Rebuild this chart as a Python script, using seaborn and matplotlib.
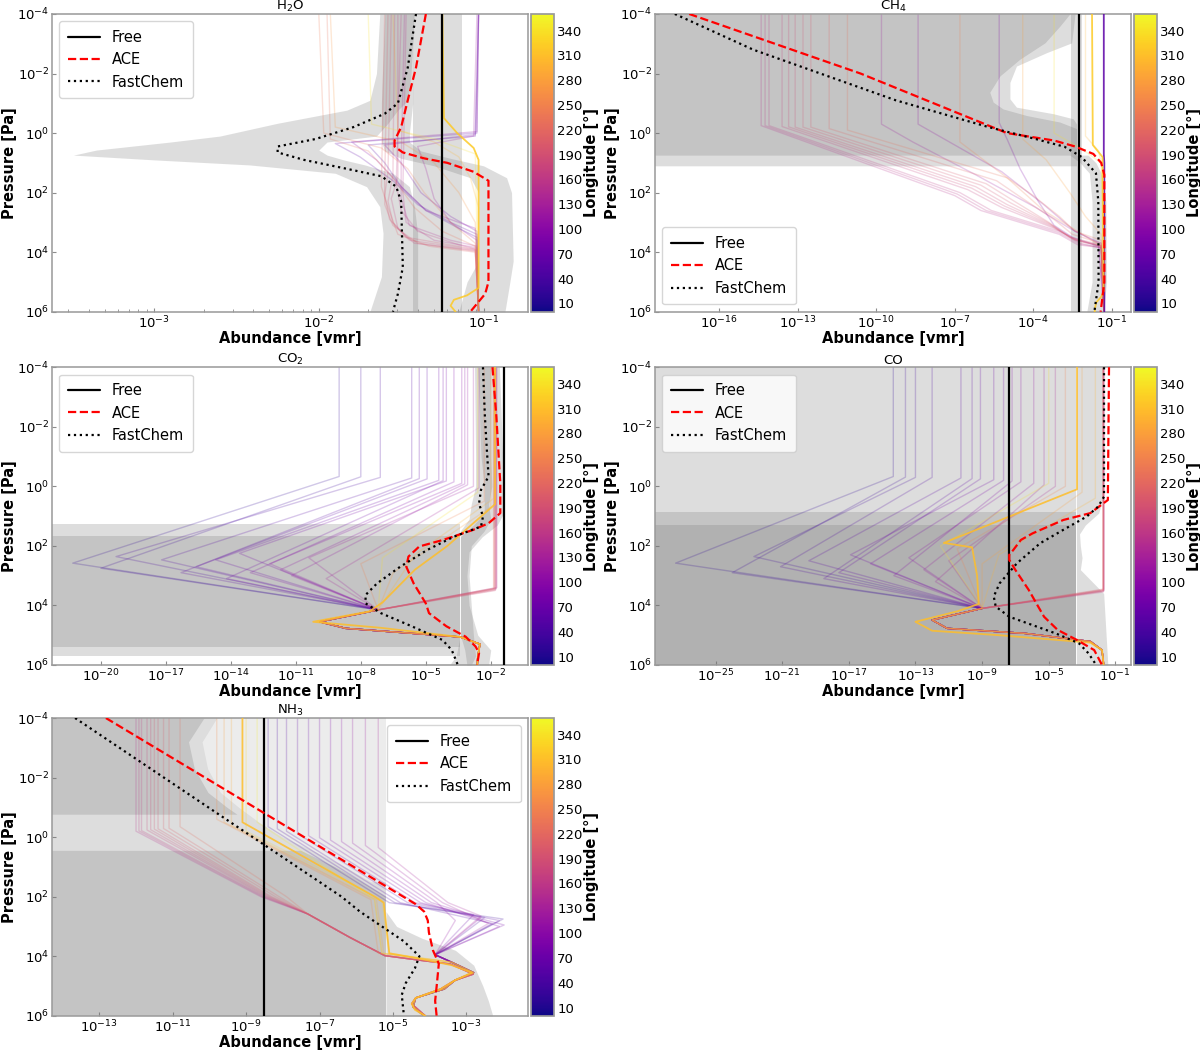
import numpy as np
import pandas as pd
import matplotlib
matplotlib.use("Agg")
import matplotlib.pyplot as plt
import seaborn as sns
from matplotlib.colors import Normalize
from matplotlib.cm import ScalarMappable
from matplotlib.ticker import FixedLocator, LogFormatterSciNotation, NullLocator, LogLocator, NullFormatter

# ---------------- data: log10 values ----------------
XMIN = -40.0
P_TICKS = [-4, -2, 0, 2, 4, 6]
LON_TICKS = list(range(10, 341, 30))

# ---- H2O ----
h2o_xlim = (-3.62, -0.73)
h2o_xticks = [-3, -2, -1]
h2o_free = -1.255
h2o_ace_p = [-4, -2.2, -1.1, -0.2, 0.25, 0.45, 0.65, 0.85, 1.0, 1.3, 1.6, 5.0, 5.4, 6.0]
h2o_ace_x = [-1.35, -1.41, -1.46, -1.50, -1.54, -1.54, -1.49, -1.36, -1.22, -1.06, -0.97, -0.97, -0.99, -1.08]
h2o_fc_p = [-4, -2.2, -1.0, -0.65, -0.2, 0.2, 0.45, 0.65, 0.9, 1.2, 1.45, 1.8, 2.3, 4.5, 5.4, 6.0]
h2o_fc_x = [-1.41, -1.46, -1.52, -1.60, -1.79, -2.02, -2.25, -2.25, -2.09, -1.83, -1.62, -1.53, -1.50, -1.49, -1.52, -1.55]
h2o_bfc_p = [-4, -2, -1.1, -0.77, -0.33, 0.1, 0.3, 0.57, 0.74, 0.9, 1.07, 1.35, 1.8, 2.47, 3.37, 4.82, 6]
h2o_bfc_lo = [-1.63, -1.65, -1.69, -1.83, -2.25, -2.6, -2.9, -3.35, -3.49, -3.0, -2.42, -1.90, -1.71, -1.63, -1.61, -1.62, -1.69]
h2o_bfc_hi = [-1.42, -1.44, -1.46, -1.52, -1.58, -1.65, -1.95, -2.0, -1.95, -1.85, -1.72, -1.55, -1.45, -1.42, -1.40, -1.40, -1.40]
h2o_bace_p = [-4, -1, 0.0, 0.3, 0.6, 0.85, 1.1, 1.5, 2.0, 4.3, 5.0, 6.0]
h2o_bace_lo = [-1.60, -1.62, -1.62, -1.62, -1.60, -1.50, -1.30, -1.08, -1.03, -1.03, -1.10, -1.15]
h2o_bace_hi = [-1.43, -1.43, -1.45, -1.45, -1.38, -1.20, -1.00, -0.86, -0.83, -0.82, -0.84, -0.87]
h2o_bfree_p = [-4, 6]
h2o_bfree_lo = [-1.43, -1.43]
h2o_bfree_hi = [-1.13, -1.13]
h2o_lon = [50, 60, 80, 100, 120, 140, 150, 160, 170, 180, 190, 200, 210, 230, 240, 270, 300, 340]
h2o_lines_p = [
    [-4, 0.1, 0.4, 1.0, 1.8, 2.6, 3.2, 3.5, 6],
    [-4, 0.0, 0.35, 0.8, 1.6, 2.4, 3.0, 3.4, 6],
    [-4, 0.05, 0.4, 1.0, 2.0, 2.8, 3.3, 6],
    [-4, -0.05, 0.3, 0.9, 1.8, 2.6, 3.2, 6],
    [-4, 0.1, 0.45, 1.2, 2.2, 3.0, 3.6, 6],
    [-4, 1.0, 2.2, 3.1, 3.6, 3.8, 6],
    [-4, 2.0, 3.0, 3.6, 3.85, 6],
    [-4, 1.7, 2.6, 3.3, 3.75, 3.9, 6],
    [-4, 1.5, 2.2, 3.2, 3.7, 3.95, 6],
    [-4, 1.4, 2.3, 3.0, 3.6, 3.92, 6],
    [-4, 1.3, 2.1, 2.9, 3.5, 3.9, 6],
    [-4, 1.6, 2.4, 3.1, 3.7, 3.97, 6],
    [-4, 1.8, 2.5, 3.4, 3.8, 4.0, 6],
    [-4, 0.2, 0.6, 1.5, 2.5, 3.3, 3.8, 6],
    [-4, 0.0, 0.5, 1.2, 2.0, 3.0, 3.7, 6],
    [-4, -0.2, 0.3, 1.0, 2.0, 3.0, 6],
    [-4, -0.1, 0.3, 0.8, 1.5, 2.5, 6],
    [-4, -0.3, 0.2, 0.7, 6],
]
h2o_lines_x = [
    [-1.03, -1.05, -1.7, -1.6, -1.5, -1.35, -1.15, -1.04, -1.03],
    [-1.03, -1.04, -1.9, -1.75, -1.55, -1.4, -1.2, -1.04, -1.03],
    [-1.03, -1.05, -1.6, -1.5, -1.38, -1.2, -1.04, -1.03],
    [-1.03, -1.04, -1.8, -1.65, -1.5, -1.35, -1.05, -1.03],
    [-1.04, -1.06, -1.4, -1.35, -1.3, -1.2, -1.04, -1.03],
    [-1.48, -1.5, -1.5, -1.45, -1.2, -1.04, -1.03],
    [-1.47, -1.49, -1.47, -1.3, -1.04, -1.03],
    [-1.50, -1.53, -1.5, -1.4, -1.15, -1.04, -1.03],
    [-1.52, -1.52, -1.56, -1.52, -1.42, -1.04, -1.03],
    [-1.54, -1.55, -1.58, -1.55, -1.45, -1.05, -1.03],
    [-1.56, -1.58, -1.60, -1.57, -1.47, -1.05, -1.03],
    [-1.58, -1.6, -1.6, -1.55, -1.40, -1.05, -1.03],
    [-1.60, -1.62, -1.58, -1.52, -1.33, -1.05, -1.03],
    [-1.95, -1.93, -1.7, -1.55, -1.42, -1.25, -1.05, -1.03],
    [-2.0, -1.97, -1.62, -1.46, -1.36, -1.2, -1.05, -1.03],
    [-1.93, -1.9, -1.5, -1.3, -1.15, -1.05, -1.03],
    [-1.55, -1.52, -1.3, -1.15, -1.08, -1.03, -1.03],
    [-1.7, -1.68, -1.3, -1.05, -1.03],
]
h2o_strong_lon = [320]
h2o_strong_p = [[-4, -0.5, 0.0, 0.5, 0.9, 5.2, 5.45, 5.6, 5.8, 6]]
h2o_strong_x = [[-1.25, -1.24, -1.16, -1.06, -1.03, -1.03, -1.1, -1.18, -1.20, -1.17]]

# ---- CH4 ----
ch4_xlim = (-18.46, -0.26)
ch4_xticks = [-16, -13, -10, -7, -4, -1]
ch4_free = -2.25
ch4_ace_p = [-4, -2, 0, 0.25, 0.45, 0.7, 1.0, 1.4, 5.0, 6.0]
ch4_ace_x = [-17.15, -10.6, -5.0, -3.2, -2.4, -1.7, -1.4, -1.28, -1.28, -1.42]
ch4_fc_p = [-4, -2.8, -1.1, -0.2, 0.2, 0.46, 0.8, 1.35, 2.3, 5.0, 6.0]
ch4_fc_x = [-17.7, -14.7, -9.25, -5.7, -3.9, -2.8, -2.15, -1.6, -1.51, -1.5, -1.66]
ch4_by_p = [-4, -3.59, -3.03, -2.48, -1.92, -1.37, -1.04, -0.81, -0.59, -0.37, -0.15, 0.74]
ch4_by_hi = [-2.60, -2.98, -3.55, -4.51, -5.27, -5.66, -5.53, -5.15, -4.25, -2.98, -2.34, -2.34]
ch4_bx_p = [-4, -3.03, -2.70, -2.25, -1.70, -1.15, -0.87, -0.65, -0.48, -0.3, 1.1]
ch4_bx_hi = [-2.40, -2.53, -3.49, -4.64, -4.89, -4.89, -4.64, -3.23, -2.47, -2.34, -2.34]
ch4_bfree_p = [-4, 6]
ch4_bfree_lo = [-2.55, -2.55]
ch4_bfree_hi = [-2.12, -2.12]
ch4_bfc_p = [0.74, 1.0, 1.35, 2.3, 5.0, 6.0]
ch4_bfc_lo = [-2.6, -2.2, -1.85, -1.75, -1.75, -1.95]
ch4_bfc_hi = [-1.9, -1.6, -1.4, -1.22, -1.2, -1.3]
ch4_lon = [150, 155, 160, 170, 180, 185, 195, 200, 215, 230, 90, 110, 250, 280, 300, 340, 120]
ch4_lines_p = [
    [-4, -0.25, 2.1, 2.6, 3.4, 3.75, 3.85, 6],
    [-4, -0.25, 2.05, 2.6, 3.35, 3.72, 3.85, 6],
    [-4, -0.25, 2.0, 2.6, 3.3, 3.7, 3.85, 6],
    [-4, -0.22, 1.9, 2.5, 3.2, 3.6, 3.8, 6],
    [-4, -0.21, 1.85, 2.45, 3.15, 3.6, 3.8, 6],
    [-4, -0.2, 1.8, 2.4, 3.1, 3.6, 3.8, 6],
    [-4, -0.2, 1.75, 2.35, 3.05, 3.55, 3.78, 6],
    [-4, -0.2, 1.7, 2.3, 3.0, 3.5, 3.75, 6],
    [-4, -0.15, 1.6, 2.2, 2.9, 3.4, 3.7, 6],
    [-4, -0.1, 1.5, 2.1, 2.8, 3.3, 3.6, 6],
    [-4, -0.35, 0.2, 1.2, 2.3, 3.1, 3.5, 3.8, 6],
    [-4, -0.3, 0.3, 1.3, 2.4, 3.3, 3.7, 6],
    [-4, 0.3, 1.5, 2.6, 3.3, 3.8, 6],
    [-4, 0.2, 0.9, 2.0, 2.8, 3.4, 6],
    [-4, 0.1, 0.6, 1.2, 6],
    [-4, 0.0, 0.5, 1.0, 6],
    [-4, -0.3, 0.3, 1.4, 2.5, 3.2, 3.7, 6],
]
ch4_lines_x = [
    [-14.4, -14.4, -7.0, -6.0, -3.0, -2.3, -1.4, -1.29],
    [-14.25, -14.25, -6.9, -5.8, -3.0, -2.25, -1.4, -1.29],
    [-14.1, -14.1, -6.8, -5.6, -3.0, -2.2, -1.4, -1.29],
    [-13.6, -13.6, -6.5, -5.2, -3.2, -2.3, -1.4, -1.29],
    [-13.35, -13.35, -6.35, -5.1, -3.25, -2.35, -1.4, -1.29],
    [-13.1, -13.1, -6.2, -5.0, -3.3, -2.4, -1.4, -1.29],
    [-12.8, -12.8, -6.0, -4.85, -3.35, -2.5, -1.4, -1.29],
    [-12.5, -12.5, -5.8, -4.7, -3.4, -2.6, -1.4, -1.29],
    [-11.8, -11.8, -5.4, -4.4, -3.2, -2.5, -1.4, -1.29],
    [-11.1, -11.1, -5.0, -4.0, -3.0, -2.4, -1.4, -1.29],
    [-5.3, -5.3, -5.0, -4.5, -3.8, -3.2, -2.5, -1.5, -1.29],
    [-8.4, -8.4, -7.2, -5.2, -3.6, -2.4, -1.4, -1.29],
    [-6.8, -6.8, -5.0, -3.6, -2.3, -1.4, -1.29],
    [-4.4, -4.4, -3.5, -2.6, -2.0, -1.4, -1.29],
    [-2.0, -2.0, -1.5, -1.35, -1.29],
    [-3.2, -3.2, -2.2, -1.4, -1.29],
    [-9.8, -9.8, -8.6, -6.2, -3.9, -2.6, -1.5, -1.29],
]
ch4_strong_lon = [60, 320]
ch4_strong_p = [[-4, 0.7, 1.0, 6], [-4, 0.4, 0.8, 5.3, 5.5, 5.7, 6]]
ch4_strong_x = [[-1.3, -1.3, -1.28, -1.28], [-1.75, -1.72, -1.35, -1.3, -1.4, -1.6, -1.65]]

# ---- CO2 ----
co2_xlim = (-22.26, -0.28)
co2_xticks = [-20, -17, -14, -11, -8, -5, -2]
co2_free = -1.39
co2_ace_p = [-4, -2.34, -0.1, 0.9, 1.24, 1.46, 1.8, 2.02, 2.36, 2.7, 3.26, 3.93, 4.26, 4.7, 5.05, 5.38, 5.6, 6.0]
co2_ace_x = [-1.92, -1.74, -1.56, -1.56, -2.1, -2.8, -4.2, -5.3, -5.8, -5.9, -5.56, -5.0, -4.85, -4.05, -3.16, -2.7, -2.54, -2.63]
co2_fc_p = [-4, -2.34, -1.22, -0.33, 0.12, 0.57, 1.02, 1.35, 1.69, 2.14, 2.70, 3.26, 3.65, 3.93, 4.26, 4.7, 5.16, 5.5, 6.0]
co2_fc_x = [-2.36, -2.27, -2.18, -2.1, -2.45, -2.54, -2.36, -2.45, -3.7, -4.94, -6.18, -7.25, -7.78, -7.78, -7.07, -5.65, -4.23, -3.8, -3.52]
co2_r1_p = [1.26, 5.69]
co2_r2_p = [1.67, 5.38]
co2_r_hi = -3.4
co2_bfc_p = [-4, -1, 0, 0.6, 1.1, 1.5, 2.0, 3.0, 4.0, 5.0, 5.7, 6]
co2_bfc_lo = [-2.75, -2.7, -2.7, -2.9, -3.0, -3.4, -3.4, -3.4, -3.4, -3.4, -3.6, -3.9]
co2_bfc_hi = [-2.0, -2.0, -1.95, -2.1, -2.0, -2.3, -2.9, -3.0, -2.9, -2.8, -2.7, -2.9]
co2_bace_p = [-4, -1, 0, 0.9, 1.3, 1.7, 2.2, 3.0, 4.0, 5.0, 5.5, 6]
co2_bace_lo = [-2.6, -2.45, -2.3, -2.3, -2.8, -3.4, -3.4, -3.4, -3.4, -3.4, -3.2, -3.1]
co2_bace_hi = [-1.6, -1.45, -1.4, -1.4, -1.7, -2.4, -3.0, -3.1, -3.0, -2.6, -2.0, -2.1]
co2_fan_lon = [20, 30, 40, 50, 55, 60, 70, 75, 80, 90, 100, 105, 110, 120, 130, 250, 280, 300, 340]
co2_fan_top = [-9.0, -8.0, -7.1, -5.65, -5.3, -4.94, -4.4, -4.2, -4.05, -3.7, -3.34, -3.2, -3.07, -2.8, -2.54, -2.3, -2.0, -1.85, -2.6]
co2_fan_pk = [-0.33, -0.32, -0.3, -0.28, -0.26, -0.25, -0.2, -0.19, -0.18, -0.15, -0.1, -0.08, -0.05, 0.0, 0.05, 0.5, 0.7, 0.4, 0.2]
co2_fan_min = [-21.3, -20.0, -19.3, -17.2, -16.3, -15.6, -14.7, -14.2, -13.6, -13.1, -12.2, -11.7, -11.2, -10.4, -9.6, -8.0, -6.5, -5.5, -7.0]
co2_fan_pmin = [2.58, 2.75, 2.36, 2.47, 2.9, 2.7, 2.47, 3.1, 2.25, 2.9, 2.6, 2.8, 3.0, 2.4, 3.1, 2.6, 2.9, 2.3, 2.4]
co2_tail_p = [4.15, 4.55, 4.77, 5.06, 5.3, 5.73, 6.0]
co2_tail_x = [-7.2, -9.9, -8.7, -3.4, -2.5, -2.6, -2.62]
co2_pink_lon = [150, 160, 170, 180, 190, 200, 210, 220]
co2_pink_top = [-1.72, -1.74, -1.76, -1.78, -1.80, -1.82, -1.85, -1.87]
co2_pink_turn = [3.4, 3.42, 3.45, 3.48, 3.5, 3.44, 3.42, 3.46]
co2_strong_lon = [310]
co2_strong_p = [[-4, 0.6, 2.0, 2.8, 3.9, 4.2, 4.55, 4.75, 5.06, 5.3, 5.73, 6]]
co2_strong_x = [[-1.8, -1.8, -4.0, -5.5, -7.0, -7.6, -10.2, -7.1, -3.41, -2.5, -2.6, -2.62]]

# ---- CO ----
co_xlim = (-28.64, -0.06)
co_xticks = [-25, -21, -17, -13, -9, -5, -1]
co_free = -7.41
co_ace_p = [-4, 0.46, 0.9, 1.13, 1.58, 1.8, 2.14, 2.30, 2.47, 2.81, 3.48, 4.04, 4.38, 4.82, 5.16, 5.5, 6.0]
co_ace_x = [-1.38, -1.45, -2.5, -4.12, -5.97, -6.67, -7.13, -7.37, -7.37, -7.0, -6.2, -5.63, -5.28, -4.47, -3.31, -2.27, -1.8]
co_fc_p = [-4, 0.35, 0.68, 1.02, 1.46, 1.91, 2.58, 3.26, 3.70, 4.04, 4.38, 4.94, 5.27, 5.61, 6.0]
co_fc_x = [-1.68, -1.68, -2.03, -2.73, -4.12, -5.51, -6.9, -7.95, -8.3, -8.18, -7.37, -4.58, -3.19, -2.61, -2.15]
co_layer_p0 = [-4, 0.87, 1.31]
co_layer_hi = -3.34
co_bb_p = [-4, 0.4, 0.9, 1.3, 1.6, 2.0, 2.4, 2.8, 3.2, 3.6, 6]
co_bb_hi = [-1.75, -1.75, -2.0, -2.8, -3.15, -3.1, -3.0, -3.1, -2.4, -1.7, -1.45]
co_fan_lon = [20, 30, 35, 45, 55, 60, 65, 75, 85, 95, 105, 115, 125, 135, 250, 280, 300, 340]
co_fan_top = [-14.33, -13.6, -13.0, -12.0, -10.27, -9.6, -9.1, -8.3, -7.71, -7.2, -6.67, -5.9, -5.28, -4.6, -4.0, -3.0, -2.2, -5.0]
co_fan_pk = [-0.33, -0.31, -0.3, -0.3, -0.28, -0.26, -0.25, -0.22, -0.2, -0.18, -0.15, -0.1, -0.05, 0.0, 0.0, 0.2, 0.4, -0.1]
co_fan_min = [-27.4, -24.0, -22.7, -21.1, -19.4, -18.5, -17.6, -16.9, -15.7, -14.3, -13.4, -12.5, -11.8, -11.0, -10.5, -9.0, -8.0, -11.5]
co_fan_pmin = [2.58, 2.9, 2.36, 2.7, 2.5, 3.1, 2.9, 2.3, 2.6, 3.0, 2.4, 2.8, 3.2, 2.5, 2.1, 2.6, 2.3, 2.0]
co_tail_p = [4.1, 4.49, 4.77, 4.94, 5.21, 5.5, 6.0]
co_tail_x = [-9.0, -12.0, -11.1, -6.4, -2.5, -1.8, -1.7]
co_pink_lon = [150, 160, 170, 180, 190, 200, 210, 220]
co_pink_top = [-1.68, -1.70, -1.72, -1.70, -1.70, -1.73, -1.75, -1.74]
co_pink_turn = [3.5, 3.52, 3.55, 3.48, 3.45, 3.5, 3.52, 3.47]
co_strong_lon = [310]
co_strong_p = [[-4, 0.1, 1.9, 2.05, 3.0, 3.95, 4.2, 4.55, 4.85, 5.0, 5.25, 5.5, 6]]
co_strong_x = [[-3.3, -3.3, -11.3, -9.6, -9.3, -9.2, -10.5, -13.0, -12.0, -8.0, -2.5, -1.8, -1.7]]

# ---- NH3 ----
nh3_xlim = (-14.29, -1.32)
nh3_xticks = [-13, -11, -9, -7, -5, -3]
nh3_free = -8.52
nh3_ace_p = [-4, 2.25, 2.5, 2.8, 3.2, 3.8, 4.25, 4.9, 5.5, 6]
nh3_ace_x = [-12.82, -4.38, -4.15, -4.05, -4.02, -3.91, -3.75, -3.8, -3.85, -3.81]
nh3_fc_p = [-4, 2.0, 2.5, 3.0, 3.5, 4.0, 4.4, 4.9, 5.3, 6]
nh3_fc_x = [-13.66, -6.4, -5.9, -5.3, -4.7, -4.28, -4.4, -4.65, -4.76, -4.7]
nh3_ba_hi = -5.19
nh3_btop_p = [-4, -3.2, -2.3, -1.5, -1.0, -0.77]
nh3_btop_hi = [-10.15, -10.57, -10.41, -10.04, -9.52, -9.25]
nh3_bbot_p = [0.46, 1.0, 1.5, 2.0, 6.0]
nh3_bbot_hi = [-7.5, -6.58, -5.85, -5.19, -5.19]
nh3_bc_p = [2.5, 3.0, 3.4, 3.8, 4.3, 5.0, 5.5, 6]
nh3_bc_hi = [-5.19, -4.9, -4.2, -3.3, -2.8, -2.55, -2.4, -2.28]
nh3_inner_p = [-4, -3.2, -2.3, -1.5, -1.0, -0.5, 0.0, 0.5, 1.0, 1.5]
nh3_inner_lo = [-9.8, -10.2, -10.05, -9.7, -9.2, -8.65, -8.0, -7.1, -6.3, -5.6]
nh3_tail_p = [3.95, 4.2, 4.55, 4.8, 5.1, 5.4, 5.7, 6]
nh3_tail_x = [-3.85, -3.4, -2.8, -3.3, -3.6, -4.38, -4.45, -4.15]
nh3_pur_lon = [30, 40, 50, 60, 70, 80, 90, 100, 110, 120, 130]
nh3_pur_top = [-8.4, -8.15, -7.9, -7.6, -7.3, -7.0, -6.7, -6.4, -6.1, -5.75, -5.4]
nh3_pur_pk = [-0.35, -0.28, -0.2, -0.12, -0.05, 0.02, 0.1, 0.15, 0.2, 0.28, 0.35]
nh3_pur_x2 = [-5.1, -4.95, -4.8, -4.6, -4.4, -4.25, -4.1, -3.95, -3.8, -3.65, -3.5]
nh3_pur_min = [-2.0, -2.5, -2.3, -2.1, -2.8, -1.97, -2.1, -2.6, -3.3, -2.4, -2.6]
nh3_pur_pmin = [2.75, 2.7, 2.9, 2.8, 2.6, 2.95, 3.0, 2.7, 2.8, 2.9, 2.65]
nh3_pink_lon = [150, 160, 165, 175, 180, 190, 195, 205, 210, 225]
nh3_pink_top = [-12.0, -11.92, -11.85, -11.7, -11.6, -11.5, -11.4, -11.25, -11.1, -10.8]
nh3_pink_pk = [-0.2, -0.21, -0.22, -0.24, -0.25, -0.27, -0.28, -0.29, -0.3, -0.35]
nh3_pink_x2 = [-8.6, -8.55, -8.5, -8.45, -8.4, -8.35, -8.3, -8.2, -8.1, -7.9]
nh3_pink_mid_p = [2.58, 3.37, 3.98, 4.15, 4.26, 4.6, 4.82, 5.1, 5.4, 5.6, 6]
nh3_pink_mid_x = [-7.32, -6.17, -5.22, -4.17, -3.44, -2.81, -3.33, -3.7, -4.38, -4.49, -4.12]
nh3_yel_lon = [260, 280, 290, 330, 350]
nh3_yel_top = [-9.8, -9.6, -9.4, -9.0, -8.7]
nh3_yel_pk = [-0.6, -0.5, -0.4, -0.2, -0.5]
nh3_yel_x2 = [-5.6, -5.5, -5.45, -5.3, -5.5]
nh3_strong_lon = [310]
nh3_strong_p = [[-4, -0.5, 2.0, 2.2, 3.9, 4.1, 4.3, 4.55, 4.8, 5.1, 5.4, 5.6, 5.8, 6]]
nh3_strong_x = [[-9.1, -9.1, -5.5, -5.25, -5.1, -4.2, -3.4, -2.85, -3.3, -3.7, -4.38, -4.49, -4.4, -4.12]]

# ---------------- assemble panel tables ----------------
def fan(lons, tops, pks, mins, pmins, tail_p, tail_x):
    out = []
    for lon, t, pk, m, pm in zip(lons, tops, pks, mins, pmins):
        out.append((lon, [-4, pk, pm] + tail_p, [t, t, m] + tail_x))
    return out

def pinks(lons, tops, turns, tail_p, tail_x):
    return [(lon, [-4, tp] + tail_p, [t, t] + tail_x) for lon, t, tp in zip(lons, tops, turns)]

panels = [
    dict(title="H$_2$O", xlim=h2o_xlim, xticks=h2o_xticks, minor=True, free=h2o_free,
         ace=(h2o_ace_p, h2o_ace_x), fc=(h2o_fc_p, h2o_fc_x), leg="upper left",
         bands=[(h2o_bfc_p, h2o_bfc_lo, h2o_bfc_hi), (h2o_bace_p, h2o_bace_lo, h2o_bace_hi),
                (h2o_bfree_p, h2o_bfree_lo, h2o_bfree_hi)], wbands=[],
         lines=list(zip(h2o_lon, h2o_lines_p, h2o_lines_x)),
         strong=list(zip(h2o_strong_lon, h2o_strong_p, h2o_strong_x))),
    dict(title="CH$_4$", xlim=ch4_xlim, xticks=ch4_xticks, minor=False, free=ch4_free,
         ace=(ch4_ace_p, ch4_ace_x), fc=(ch4_fc_p, ch4_fc_x), leg="lower left",
         bands=[(ch4_by_p, [XMIN] * len(ch4_by_p), ch4_by_hi), (ch4_bx_p, [XMIN] * len(ch4_bx_p), ch4_bx_hi),
                (ch4_bfree_p, ch4_bfree_lo, ch4_bfree_hi), (ch4_bfc_p, ch4_bfc_lo, ch4_bfc_hi)], wbands=[],
         lines=list(zip(ch4_lon, ch4_lines_p, ch4_lines_x)),
         strong=list(zip(ch4_strong_lon, ch4_strong_p, ch4_strong_x))),
    dict(title="CO$_2$", xlim=co2_xlim, xticks=co2_xticks, minor=False, free=co2_free,
         ace=(co2_ace_p, co2_ace_x), fc=(co2_fc_p, co2_fc_x), leg="upper left",
         bands=[(co2_r1_p, [XMIN] * 2, [co2_r_hi] * 2), (co2_r2_p, [XMIN] * 2, [co2_r_hi] * 2),
                (co2_bfc_p, co2_bfc_lo, co2_bfc_hi), (co2_bace_p, co2_bace_lo, co2_bace_hi)], wbands=[],
         lines=fan(co2_fan_lon, co2_fan_top, co2_fan_pk, co2_fan_min, co2_fan_pmin, co2_tail_p, co2_tail_x)
         + pinks(co2_pink_lon, co2_pink_top, co2_pink_turn, co2_tail_p, co2_tail_x),
         strong=list(zip(co2_strong_lon, co2_strong_p, co2_strong_x))),
    dict(title="CO", xlim=co_xlim, xticks=co_xticks, minor=False, free=co_free,
         ace=(co_ace_p, co_ace_x), fc=(co_fc_p, co_fc_x), leg="upper left",
         bands=[([p0, 6], [XMIN] * 2, [co_layer_hi] * 2) for p0 in co_layer_p0]
         + [(co_bb_p, [co_layer_hi] * len(co_bb_p), co_bb_hi)], wbands=[],
         lines=fan(co_fan_lon, co_fan_top, co_fan_pk, co_fan_min, co_fan_pmin, co_tail_p, co_tail_x)
         + pinks(co_pink_lon, co_pink_top, co_pink_turn, co_tail_p, co_tail_x),
         strong=list(zip(co_strong_lon, co_strong_p, co_strong_x))),
    dict(title="NH$_3$", xlim=nh3_xlim, xticks=nh3_xticks, minor=False, free=nh3_free,
         ace=(nh3_ace_p, nh3_ace_x), fc=(nh3_fc_p, nh3_fc_x), leg="upper right",
         bands=[([-4, 6], [XMIN] * 2, [nh3_ba_hi] * 2),
                (nh3_btop_p, [XMIN] * len(nh3_btop_p), nh3_btop_hi),
                (nh3_bbot_p, [XMIN] * len(nh3_bbot_p), nh3_bbot_hi),
                (nh3_bc_p, [nh3_ba_hi] * len(nh3_bc_p), nh3_bc_hi)],
         wbands=[(nh3_inner_p, nh3_inner_lo, [nh3_ba_hi] * len(nh3_inner_p))],
         lines=[(lon, [-4, pk, 2.2, pm] + nh3_tail_p, [t, t, x2, m] + nh3_tail_x)
                for lon, t, pk, x2, m, pm in zip(nh3_pur_lon, nh3_pur_top, nh3_pur_pk, nh3_pur_x2, nh3_pur_min, nh3_pur_pmin)]
         + [(lon, [-4, pk, 2.0] + nh3_pink_mid_p, [t, t, x2] + nh3_pink_mid_x)
            for lon, t, pk, x2 in zip(nh3_pink_lon, nh3_pink_top, nh3_pink_pk, nh3_pink_x2)]
         + [(lon, [-4, pk, 2.1, 3.9] + nh3_tail_p[1:], [t, t, x2, x2 + 0.2] + nh3_tail_x[1:])
            for lon, t, pk, x2 in zip(nh3_yel_lon, nh3_yel_top, nh3_yel_pk, nh3_yel_x2)],
         strong=list(zip(nh3_strong_lon, nh3_strong_p, nh3_strong_x))),
]

# ---------------- drawing ----------------
sns.set_theme(style="white")
plt.rcParams['font.family'] = ['DejaVu Sans']
plt.rcParams['mathtext.default'] = 'regular'
for key in ["text.color", "axes.labelcolor", "xtick.labelcolor", "ytick.labelcolor"]:
    plt.rcParams[key] = "black"

norm = Normalize(0, 360)
cmap = plt.get_cmap("plasma")

fig = plt.figure(figsize=(12, 10.51), dpi=100)
ax_pos = [(0.0433, 0.7034), (0.5458, 0.7034), (0.0433, 0.3673), (0.5458, 0.3673), (0.0433, 0.0335)]
AW, AH = 0.3967, 0.2833
CX = {0.0433: 0.4425, 0.5458: 0.945}

for sp, (x0, y0) in zip(panels, ax_pos):
    ax = fig.add_axes([x0, y0, AW, AH])
    cax = fig.add_axes([CX[x0], y0, 0.0195, AH])
    ax.set_xscale("log")
    ax.set_yscale("log")

    for bp, blo, bhi in sp["bands"]:
        ax.fill_betweenx(10.0 ** np.array(bp, float), 10.0 ** np.array(blo, float),
                         10.0 ** np.array(bhi, float), color="#7a7a7a", alpha=0.25, lw=0, zorder=1)
    for bp, blo, bhi in sp["wbands"]:
        ax.fill_betweenx(10.0 ** np.array(bp, float), 10.0 ** np.array(blo, float),
                         10.0 ** np.array(bhi, float), color="white", alpha=0.45, lw=0, zorder=1.5)

    rows = []
    for k, (lon, pp, xx) in enumerate(sp["lines"]):
        for a, b in zip(pp, xx):
            rows.append(dict(vmr=10.0 ** b, P=10.0 ** a, lon=lon, uid=k))
    df = pd.DataFrame(rows)
    sns.lineplot(data=df, x="vmr", y="P", hue="lon", units="uid", estimator=None, sort=False,
                 palette="plasma", hue_norm=norm, lw=1.0, alpha=0.22, legend=False, ax=ax, zorder=2)
    for lon, pp, xx in sp["strong"]:
        sns.lineplot(x=10.0 ** np.array(xx), y=10.0 ** np.array(pp), sort=False, estimator=None,
                     color=cmap(norm(lon)), lw=1.3, alpha=0.85, ax=ax, zorder=3)

    sns.lineplot(x=[10.0 ** sp["free"]] * 2, y=[1e-5, 1e7], sort=False, estimator=None,
                 color="black", lw=1.6, label="Free", ax=ax, zorder=5)
    sns.lineplot(x=10.0 ** np.array(sp["ace"][1]), y=10.0 ** np.array(sp["ace"][0]), sort=False,
                 estimator=None, color="red", lw=1.6, ls="--", label="ACE", ax=ax, zorder=5)
    sns.lineplot(x=10.0 ** np.array(sp["fc"][1]), y=10.0 ** np.array(sp["fc"][0]), sort=False,
                 estimator=None, color="black", lw=1.6, ls=":", label="FastChem", ax=ax, zorder=5)

    ax.set_xlim(10.0 ** sp["xlim"][0], 10.0 ** sp["xlim"][1])
    ax.set_ylim(1e6, 1e-4)
    ax.xaxis.set_major_locator(FixedLocator([10.0 ** e for e in sp["xticks"]]))
    ax.xaxis.set_major_formatter(LogFormatterSciNotation())
    if sp["minor"]:
        ax.xaxis.set_minor_locator(LogLocator(base=10, subs=np.arange(2, 10)))
        ax.xaxis.set_minor_formatter(NullFormatter())
    else:
        ax.xaxis.set_minor_locator(NullLocator())
    ax.yaxis.set_major_locator(FixedLocator([10.0 ** e for e in P_TICKS]))
    ax.yaxis.set_major_formatter(LogFormatterSciNotation())
    ax.yaxis.set_minor_locator(NullLocator())
    ax.tick_params(axis="both", which="both", direction="in", bottom=True, left=True,
                   color="0.55", labelcolor="black", labelsize=9.5, pad=2)
    ax.tick_params(which="major", length=3, width=0.8)
    ax.tick_params(which="minor", length=2, width=0.6)
    for s in ax.spines.values():
        s.set_color("0.6")
        s.set_linewidth(1.1)
    ax.set_xlabel("Abundance [vmr]", fontsize=10.5, fontweight="bold", labelpad=0, color="black")
    ax.set_ylabel("Pressure [Pa]", fontsize=10.5, fontweight="bold", labelpad=0, color="black")
    ax.set_title(sp["title"], fontsize=9.5, pad=2, color="black")
    leg = ax.legend(loc=sp["leg"], fontsize=10.5, handlelength=2.2, borderpad=0.6, labelspacing=0.5)
    for t in leg.get_texts():
        t.set_color("black")

    cb = fig.colorbar(ScalarMappable(norm=norm, cmap=cmap), cax=cax, ticks=LON_TICKS)
    cb.outline.set_edgecolor("0.6")
    cb.ax.tick_params(labelsize=9.5, length=0, pad=2, labelcolor="black")
    cb.set_label("Longitude [°]", fontsize=10.5, fontweight="bold", labelpad=1, color="black")

fig.savefig("out.png", dpi=100)
